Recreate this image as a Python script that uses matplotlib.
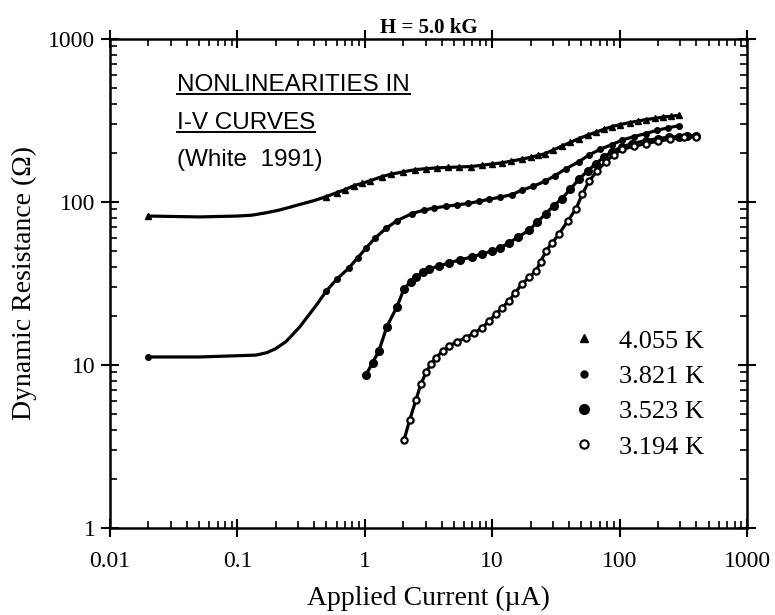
import numpy as np
import matplotlib
matplotlib.use('Agg')
import matplotlib.pyplot as plt
from matplotlib.lines import Line2D

# ####################################################################
# DATA (current in uA, resistance in Ohm)
temps = ['4.055 K', '3.821 K', '3.523 K', '3.194 K']

x_4055 = [0.02, 0.05, 0.1, 0.13, 0.17, 0.21, 0.26, 0.3, 0.4, 0.5, 0.6, 0.7, 0.82, 0.95, 1.1,
          1.36, 1.6, 2.0, 2.5, 3.0, 3.7, 4.5, 5.5, 6.8, 8.3, 10, 12, 14, 17, 20, 23, 26, 30,
          35, 41, 48, 56, 65, 75, 87, 100, 120, 140, 160, 190, 220, 255, 290]
y_4055 = [82, 81, 82, 83, 86, 89, 93, 96, 102, 108, 114, 119, 126, 130, 135,
          143, 148, 153, 158, 160, 162, 163, 164, 165, 168, 171, 174, 178, 183, 188, 193, 198, 208,
          220, 232, 245, 257, 268, 279, 290, 298, 307, 314, 320, 326, 332, 336, 340]

x_3821 = [0.02, 0.05, 0.1, 0.14, 0.17, 0.2, 0.24, 0.27, 0.31, 0.345, 0.42, 0.5, 0.6, 0.75,
          0.88, 1.02, 1.2, 1.47, 1.8, 2.35, 2.9, 3.5, 4.3, 5.3, 6.5, 7.9, 9.5, 11.5, 14.3, 17,
          21, 26, 31, 38, 48, 58, 70, 87, 105, 130, 161, 195, 240, 292]
y_3821 = [11.2, 11.2, 11.4, 11.5, 11.9, 12.6, 13.9, 15.3, 17.2, 19.2, 23.5, 28.5, 33.5, 39.4,
          45.5, 52, 60, 69, 77, 85, 89, 92, 94, 96, 98, 101, 104, 107, 111, 118,
          125, 134, 145, 160, 177, 195, 210, 225, 240, 252, 263, 275, 285, 294]

x_3523 = [1.02, 1.15, 1.29, 1.49, 1.79, 2.03, 2.3, 2.52, 2.85, 3.19, 3.8, 4.58, 5.6, 6.94,
          8.3, 9.96, 11.6, 13.5, 16, 19.4, 22.5, 26.4, 30.5, 35.3, 41, 48, 56, 65, 75, 87,
          105, 125, 161, 200, 245, 292, 340, 398]
y_3523 = [8.7, 10.3, 12.2, 17.2, 22.8, 29.3, 32.5, 34.7, 37, 38.8, 40.5, 42.3, 44.2, 46,
          48, 50, 52.5, 56, 61, 67, 75, 85, 95, 105, 120, 138, 155, 172, 188, 204,
          218, 228, 238, 245, 250, 252, 254, 255]

x_3194 = [2.03, 2.25, 2.52, 2.75, 3.02, 3.3, 3.62, 4.1, 4.58, 5.3, 6.2, 7.2, 8.3, 9.5, 10.7,
          12, 13.5, 15.2, 17.1, 19.5, 22.1, 24, 26.4, 29.5, 33.4, 39, 45.5, 51, 57.5, 67,
          78, 90, 104, 130, 161, 200, 250, 320, 398]
y_3194 = [3.45, 4.6, 6.1, 7.6, 9.0, 10.1, 11.1, 12.2, 13.1, 13.9, 14.7, 15.7, 16.9, 18.6, 20.6,
          22.5, 24.7, 27.8, 31.4, 34.5, 37.8, 43, 50, 56, 63.6, 76, 91, 112, 134, 156,
          177, 195, 210, 220, 228, 236, 243, 249, 252]

xticks = [0.01, 0.1, 1, 10, 100, 1000]
xticklabels = ['0.01', '0.1', '1', '10', '100', '1000']
yticks = [1, 10, 100, 1000]
yticklabels = ['1', '10', '100', '1000']
# ####################################################################

plt.rcParams['font.family'] = ['Liberation Serif', 'DejaVu Serif']

W, H = 775, 615
fig = plt.figure(figsize=(W / 100, H / 100), dpi=100)
ax = fig.add_axes([110 / W, 1 - 528 / H, 637 / W, (528 - 39) / H])

ax.set_xscale('log')
ax.set_yscale('log')
ax.set_xlim(0.01, 1000)
ax.set_ylim(1, 1000)

# no markers on the smooth flat part at low current
mark_a = [i == 0 or x >= 0.45 for i, x in enumerate(x_4055)]
mark_b = [i == 0 or x >= 0.45 for i, x in enumerate(x_3821)]

lw = 2.3
ax.plot(x_4055, y_4055, '-', color='black', lw=lw, marker='^', ms=4.5, markevery=mark_a)
ax.plot(x_3821, y_3821, '-', color='black', lw=lw, marker='o', ms=4, markevery=mark_b)
ax.plot(x_3523, y_3523, '-', color='black', lw=lw, marker='o', ms=5.5)
ax.plot(x_3194, y_3194, '-', color='black', lw=lw, marker='o', ms=4.5,
        mfc='white', mec='black', mew=1.6)

for s in ax.spines.values():
    s.set_linewidth(1.8)

ax.set_xticks(xticks)
ax.set_xticklabels(xticklabels)
ax.set_yticks(yticks)
ax.set_yticklabels(yticklabels)
ax.tick_params(which='major', direction='inout', length=13, width=1.5,
               top=True, right=True, labelsize=17)
ax.tick_params(which='minor', direction='in', length=5, width=1.2, top=True, right=True)
ax.tick_params(axis='x', which='major', pad=10)
ax.tick_params(axis='y', which='major', pad=4)

ax.set_xlabel(u'Applied Current (\u00b5A)', fontsize=20, labelpad=10)
ax.set_ylabel(u'Dynamic Resistance (\u03a9)', fontsize=20, labelpad=8)
ax.set_title('H = 5.0 kG', fontsize=15, fontweight='bold', pad=4)

# annotation block
notes = []
for txt, yb in [('NONLINEARITIES IN', 91), ('I-V CURVES', 129), ('(White  1991)', 166)]:
    t = fig.text(177 / W, 1 - yb / H, txt, fontsize=17.5, family='Liberation Sans',
                 va='baseline', ha='left')
    notes.append((t, yb))

fig.canvas.draw()
for t, yb in notes[:2]:
    bb = t.get_window_extent()
    fig.add_artist(Line2D([bb.x0 / W, bb.x1 / W], [1 - (yb + 3) / H, 1 - (yb + 3) / H],
                          transform=fig.transFigure, color='black', lw=1.4))

handles = [Line2D([], [], ls='none', marker='^', color='black', ms=6),
           Line2D([], [], ls='none', marker='o', color='black', ms=5),
           Line2D([], [], ls='none', marker='o', color='black', ms=7),
           Line2D([], [], ls='none', marker='o', mfc='white', mec='black', mew=1.5, ms=6)]
ax.legend(handles, temps, loc='upper left', bbox_to_anchor=(558 / W, 1 - 316 / H),
          bbox_transform=fig.transFigure, frameon=False, fontsize=19,
          handlelength=1.0, handletextpad=0.8, labelspacing=0.45, borderpad=0)

plt.savefig('out.png', dpi=100)
